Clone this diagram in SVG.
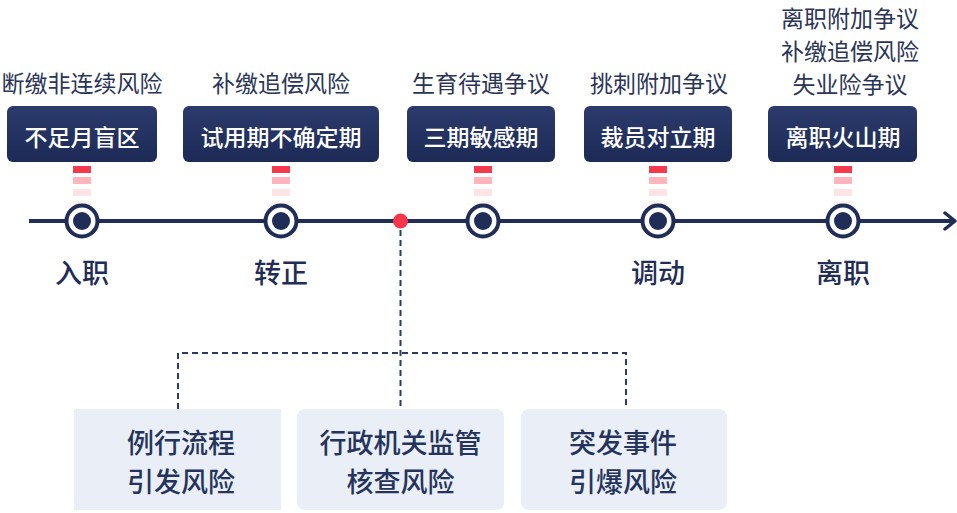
<svg xmlns="http://www.w3.org/2000/svg" width="957" height="513" viewBox="0 0 957 513">
<defs>
<linearGradient id="navy" x1="0" y1="0" x2="0" y2="1">
<stop offset="0" stop-color="#2b3b6c"/>
<stop offset="1" stop-color="#1d2a56"/>
</linearGradient>
<style>
.hdr{font-family:"Noto Sans CJK SC","Noto Sans",sans-serif;font-size:23px;fill:#2a3557;text-anchor:middle;dominant-baseline:central}
.bt{font-family:"Noto Sans CJK SC","Noto Sans",sans-serif;font-size:23px;fill:#ffffff;text-anchor:middle;dominant-baseline:central;font-weight:500}
.lbl{font-family:"Noto Sans CJK SC","Noto Sans",sans-serif;font-size:27px;fill:#1f2d57;text-anchor:middle;dominant-baseline:central;font-weight:500}
.rt{font-family:"Noto Sans CJK SC","Noto Sans",sans-serif;font-size:27px;fill:#25345c;text-anchor:middle;dominant-baseline:central;font-weight:500}
.box{fill:url(#navy)}
.rbox{fill:#eaeef6}
.ring{fill:#ffffff;stroke:#1f2d57;stroke-width:4}
.dot{fill:#1f2d57}
.d1{fill:#f43a4c}.d2{fill:#ffb5bb}.d3{fill:#ffe4e7}.d4{fill:#fff2f3}
.dash{fill:none;stroke:#2a3a60;stroke-width:2;stroke-dasharray:6 4}
</style>
</defs>
<rect width="957" height="513" fill="#ffffff"/>

<g id="connectors">
<line x1="29" y1="221" x2="954" y2="221" stroke="#1f2d57" stroke-width="4"/>
<polyline points="945,213 955,221 945,229" fill="none" stroke="#1f2d57" stroke-width="3.5" stroke-linecap="round" stroke-linejoin="round"/>
<line class="dash" x1="400.5" y1="230" x2="400.5" y2="409"/>
<polyline class="dash" points="178,409 178,353 626,353 626,409"/>
</g>

<g id="stage1">
<text class="hdr" x="82" y="82">断缴非连续风险</text>
<rect class="box" x="7" y="106" width="150" height="56" rx="6"/>
<text class="bt" x="82" y="136">不足月盲区</text>
<rect class="d1" x="73" y="166" width="18" height="7"/><rect class="d2" x="73" y="177" width="18" height="7"/><rect class="d3" x="73" y="189" width="18" height="7"/><rect class="d4" x="73" y="201" width="18" height="7"/>
<circle class="ring" cx="82" cy="221" r="15.5"/><circle class="dot" cx="82" cy="221" r="9"/>
<text class="lbl" x="82" y="271">入职</text>
</g>

<g id="stage2">
<text class="hdr" x="281" y="82">补缴追偿风险</text>
<rect class="box" x="183" y="106" width="196" height="56" rx="6"/>
<text class="bt" x="281" y="136">试用期不确定期</text>
<rect class="d1" x="272" y="166" width="18" height="7"/><rect class="d2" x="272" y="177" width="18" height="7"/><rect class="d3" x="272" y="189" width="18" height="7"/><rect class="d4" x="272" y="201" width="18" height="7"/>
<circle class="ring" cx="281" cy="221" r="15.5"/><circle class="dot" cx="281" cy="221" r="9"/>
<text class="lbl" x="281" y="271">转正</text>
</g>

<g id="redpoint">
<circle cx="400.5" cy="221" r="7.5" fill="#f5364a"/>
</g>

<g id="stage3">
<text class="hdr" x="481" y="82">生育待遇争议</text>
<rect class="box" x="407" y="106" width="148" height="56" rx="6"/>
<text class="bt" x="481" y="136">三期敏感期</text>
<rect class="d1" x="474" y="166" width="18" height="7"/><rect class="d2" x="474" y="177" width="18" height="7"/><rect class="d3" x="474" y="189" width="18" height="7"/><rect class="d4" x="474" y="201" width="18" height="7"/>
<circle class="ring" cx="483" cy="221" r="15.5"/><circle class="dot" cx="483" cy="221" r="9"/>
</g>

<g id="stage4">
<text class="hdr" x="659" y="82">挑刺附加争议</text>
<rect class="box" x="584" y="106" width="148" height="56" rx="6"/>
<text class="bt" x="658" y="136">裁员对立期</text>
<rect class="d1" x="649" y="166" width="18" height="7"/><rect class="d2" x="649" y="177" width="18" height="7"/><rect class="d3" x="649" y="189" width="18" height="7"/><rect class="d4" x="649" y="201" width="18" height="7"/>
<circle class="ring" cx="658" cy="221" r="15.5"/><circle class="dot" cx="658" cy="221" r="9"/>
<text class="lbl" x="658" y="271">调动</text>
</g>

<g id="stage5">
<text class="hdr" x="850" y="17">离职附加争议</text>
<text class="hdr" x="850" y="50">补缴追偿风险</text>
<text class="hdr" x="850" y="83">失业险争议</text>
<rect class="box" x="768" y="106" width="149" height="56" rx="6"/>
<text class="bt" x="843" y="136">离职火山期</text>
<rect class="d1" x="834" y="166" width="18" height="7"/><rect class="d2" x="834" y="177" width="18" height="7"/><rect class="d3" x="834" y="189" width="18" height="7"/><rect class="d4" x="834" y="201" width="18" height="7"/>
<circle class="ring" cx="843" cy="221" r="15.5"/><circle class="dot" cx="843" cy="221" r="9"/>
<text class="lbl" x="843" y="271">离职</text>
</g>

<g id="risk1">
<rect class="rbox" x="74" y="409" width="207" height="101"/>
<text class="rt" x="181" y="441">例行流程</text>
<text class="rt" x="181" y="480">引发风险</text>
</g>
<g id="risk2">
<rect class="rbox" x="297" y="409" width="207" height="101" rx="8"/>
<text class="rt" x="400.5" y="441">行政机关监管</text>
<text class="rt" x="400.5" y="480">核查风险</text>
</g>
<g id="risk3">
<rect class="rbox" x="521" y="409" width="206" height="101" rx="8"/>
<text class="rt" x="623" y="441">突发事件</text>
<text class="rt" x="623" y="480">引爆风险</text>
</g>
</svg>
